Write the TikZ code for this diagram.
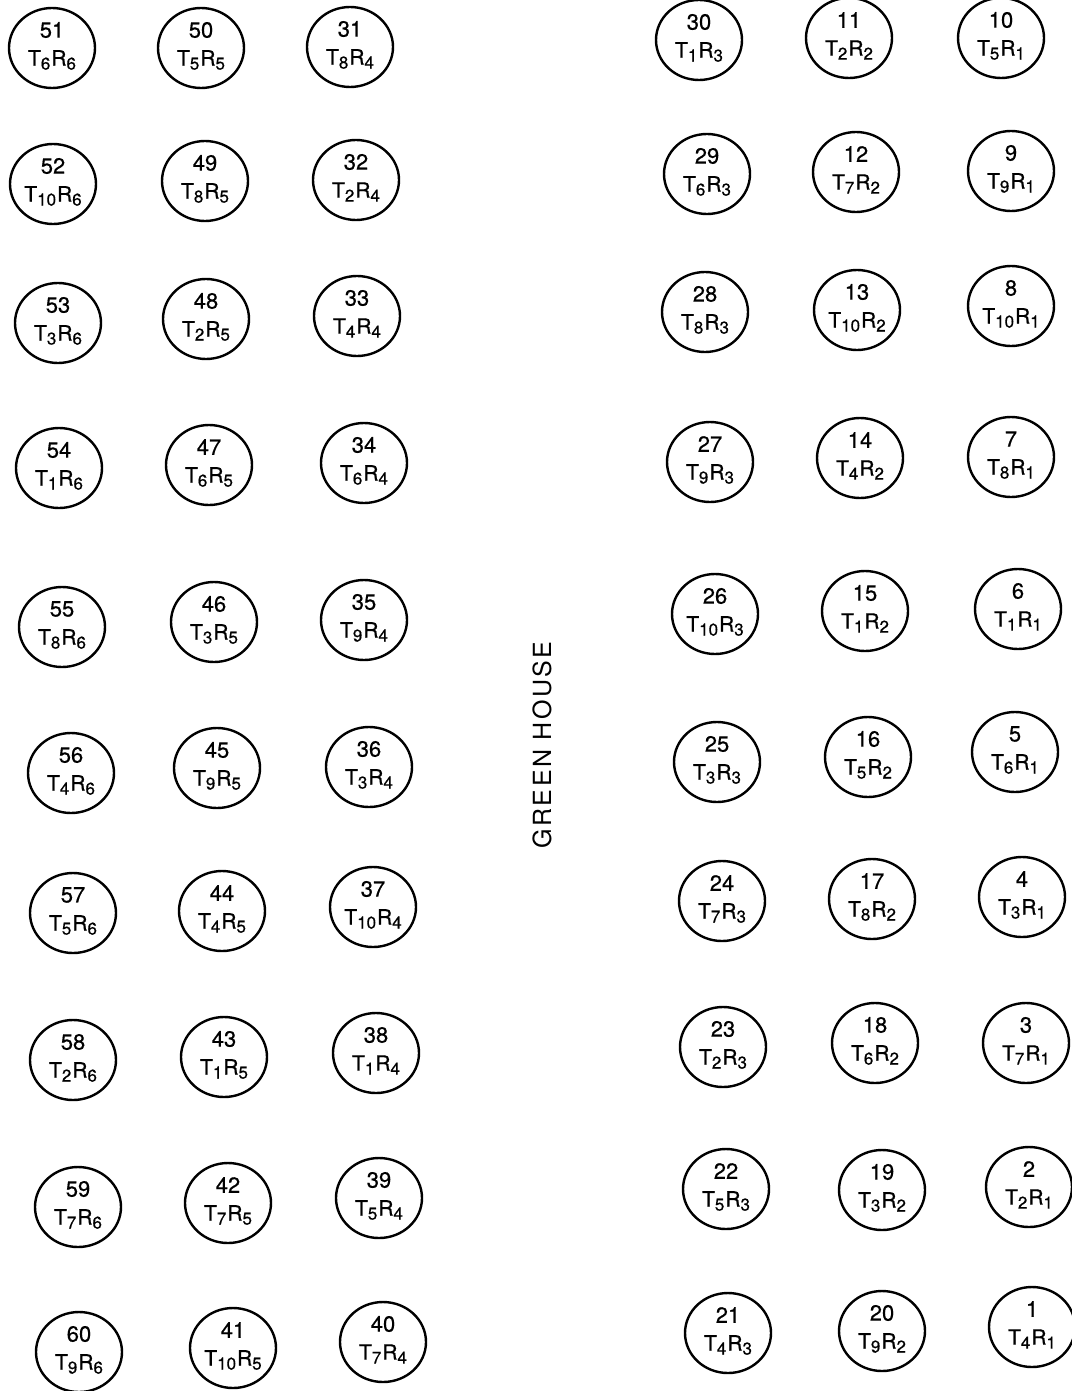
\documentclass[tikz,border=0pt]{standalone}
\usepackage{fontspec}
\setmainfont{TeX Gyre Heros}
\usetikzlibrary{shapes.geometric}
\tikzset{
  plotbox/.style={ellipse,draw=black,line width=2.4pt,minimum width=86pt,minimum height=80pt,inner sep=0pt},
  numtxt/.style={inner sep=0pt,font=\fontsize{22}{22}\selectfont\addfontfeature{FakeBold=0.6}},
  trtxt/.style={inner sep=0pt,font=\fontsize{21}{21}\selectfont\addfontfeature{FakeBold=0.6}},
  housetxt/.style={inner sep=0pt,rotate=90,font=\fontsize{25}{25}\selectfont\addfontfeature{LetterSpace=10}}
}
\newcommand\lowdig[1]{\raisebox{-4pt}{\fontsize{17}{17}\selectfont #1}}
\newcommand\plotc[5]{%
  \node[plotbox] (p#3) at (#1,#2) {};
  \node[numtxt] (n#3) at ([yshift=18pt]p#3.center) {#3};
  \node[trtxt] (t#3) at ([yshift=-12pt]p#3.center) {T\lowdig{#4}\kern1pt R\lowdig{#5}};}
\begin{document}
\begin{tikzpicture}[x=1pt,y=-1pt]
\useasboundingbox[fill=white] (0,0) rectangle (1071,1391);
% column R6
\plotc{52}{48}{51}{6}{6}
\plotc{53}{184}{52}{10}{6}
\plotc{58}{323}{53}{3}{6}
\plotc{59}{468}{54}{1}{6}
\plotc{62}{627}{55}{8}{6}
\plotc{71}{773}{56}{4}{6}
\plotc{73}{913}{57}{5}{6}
\plotc{73}{1060}{58}{2}{6}
\plotc{78}{1207}{59}{7}{6}
\plotc{79}{1352}{60}{9}{6}
% column R5
\plotc{201}{48}{50}{5}{5}
\plotc{205}{181}{49}{8}{5}
\plotc{206}{319}{48}{2}{5}
\plotc{209}{465}{47}{6}{5}
\plotc{214}{622}{46}{3}{5}
\plotc{217}{768}{45}{9}{5}
\plotc{222}{911}{44}{4}{5}
\plotc{224}{1057}{43}{1}{5}
\plotc{228}{1203}{42}{7}{5}
\plotc{233}{1348}{41}{10}{5}
% column R4
\plotc{350}{47}{31}{8}{4}
\plotc{356}{180}{32}{2}{4}
\plotc{357}{316}{33}{4}{4}
\plotc{364}{463}{34}{6}{4}
\plotc{364}{620}{35}{9}{4}
\plotc{369}{767}{36}{3}{4}
\plotc{373}{907}{37}{10}{4}
\plotc{376}{1053}{38}{1}{4}
\plotc{379}{1198}{39}{5}{4}
\plotc{383}{1342}{40}{7}{4}
% column R3
\plotc{699}{40}{30}{1}{3}
\plotc{707}{174}{29}{6}{3}
\plotc{705}{312}{28}{8}{3}
\plotc{710}{462}{27}{9}{3}
\plotc{715}{614}{26}{10}{3}
\plotc{717}{762}{25}{3}{3}
\plotc{722}{901}{24}{7}{3}
\plotc{723}{1047}{23}{2}{3}
\plotc{726}{1189}{22}{5}{3}
\plotc{728}{1333}{21}{4}{3}
% column R2
\plotc{849}{38}{11}{2}{2}
\plotc{856}{172}{12}{7}{2}
\plotc{857}{310}{13}{10}{2}
\plotc{860}{458}{14}{4}{2}
\plotc{865}{611}{15}{1}{2}
\plotc{868}{757}{16}{5}{2}
\plotc{872}{899}{17}{8}{2}
\plotc{875}{1043}{18}{6}{2}
\plotc{882}{1190}{19}{3}{2}
\plotc{882}{1331}{20}{9}{2}
% column R1
\plotc{1001}{38}{10}{5}{1}
\plotc{1011}{171}{9}{9}{1}
\plotc{1011}{306}{8}{10}{1}
\plotc{1011}{457}{7}{8}{1}
\plotc{1018}{609}{6}{1}{1}
\plotc{1015}{752}{5}{6}{1}
\plotc{1022}{897}{4}{3}{1}
\plotc{1026}{1043}{3}{7}{1}
\plotc{1029}{1187}{2}{2}{1}
\plotc{1032}{1327}{1}{4}{1}
% label
\node[housetxt] (house) at (542,745) {GREEN HOUSE};
\end{tikzpicture}
\end{document}
